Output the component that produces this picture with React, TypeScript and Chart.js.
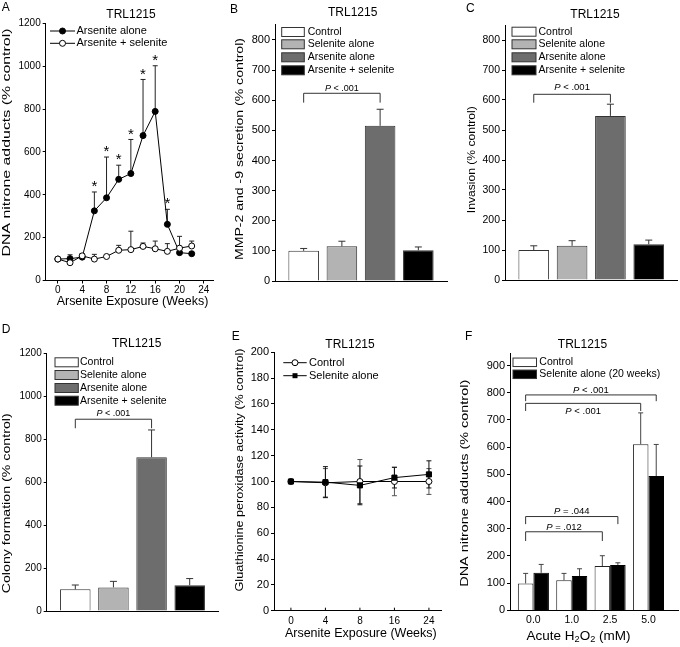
import React, { useEffect, useRef } from 'react';
import { Chart, registerables } from 'chart.js';

Chart.register(...registerables);

const FONT = '"Liberation Sans", Arial, Helvetica, sans-serif';
Chart.defaults.font.family = FONT;

// ---------------- Panel A ----------------
const weeksA = [0, 2, 4, 6, 8, 10, 12, 14, 16, 18, 20, 22];
const arsAloneA = [100, 102, 109, 325, 386, 472, 499, 676, 789, 262, 130, 125];
const arsAloneErrA = [0, 18, 16, 88, 190, 66, 159, 262, 213, 70, 0, 0];
const arsSelA = [100, 83, 115, 100, 112, 141, 144, 159, 148, 136, 151, 161];
const arsSelErrA = [0, 0, 8, 22, 0, 23, 86, 16, 36, 36, 55, 23];
const starWeeksA = [6, 8, 10, 12, 14, 16, 18];
const xTicksA = [0, 4, 8, 12, 16, 20, 24];
const yTicksA = [0, 200, 400, 600, 800, 1000, 1200];

// ---------------- Panels B, C, D ----------------
const groups4 = ['Control', 'Selenite alone', 'Arsenite alone', 'Arsenite + selenite'];
const groupColors = ['#ffffff', '#b3b3b3', '#6d6d6d', '#000000'];
const groupIdx = [0, 1, 2, 3];
const mmpB = [100, 115, 515, 102];
const mmpErrB = [8, 17, 55, 11];
const invasionC = [100, 114, 547, 119];
const invasionErrC = [14, 17, 39, 14];
const colonyD = [101, 110, 716, 120];
const colonyErrD = [20, 28, 127, 31];
const yTicksBC = [0, 100, 200, 300, 400, 500, 600, 700, 800];
const yTicksD = [0, 200, 400, 600, 800, 1000, 1200];
// significance brackets: [lineValue, legBottomValue, labelValue]
const bracketB = [623, 592, 640];
const bracketC = [619, 591, 642];
const bracketD = [893, 851, 921];
const pLabel = 'P < .001';

// ---------------- Panel E ----------------
const weeksE = ['0', '4', '8', '16', '24'];
const controlE = [100, 99, 100, 100, 100];
const controlErrE = [0, 11, 17, 11, 10];
const seleniteE = [100, 99.5, 97, 103, 105.5];
const seleniteErrE = [0, 12, 15, 8, 10.5];
const yTicksE = [0, 20, 40, 60, 80, 100, 120, 140, 160, 180, 200];

// ---------------- Panel F ----------------
const h2o2F = ['0.0', '1.0', '2.5', '5.0'];
const controlF = [99, 111, 163, 611];
const controlErrF = [37, 25, 38, 115];
const seleniteF = [138, 126, 167, 494];
const seleniteErrF = [31, 27, 8, 116];
const yTicksF = [0, 100, 200, 300, 400, 500, 600, 700, 800, 900];
// [fromDataset, fromIndex, toDataset, toIndex, lineValue, legValue, labelValue, label]
const bracketsF: [number, number, number, number, number, number, number, string][] = [
  [0, 0, 1, 3, 792, 769, 810, 'P < .001'],
  [0, 0, 0, 3, 761, 733, 731, 'P < .001'],
  [0, 0, 1, 2, 345, 317, 364, 'P = .044'],
  [0, 0, 0, 2, 289, 255, 306, 'P = .012'],
];

// ---------------- drawing helpers ----------------
type Seg = { t: string; it?: boolean; sub?: boolean };
type TextOpts = { align?: 'left' | 'center' | 'right'; rot?: boolean; len?: number; color?: string };
type Ctx = CanvasRenderingContext2D;

function drawText(ctx: Ctx, content: string | Seg[], x: number, y: number, size: number, o: TextOpts = {}) {
  const arr: Seg[] = typeof content === 'string' ? [{ t: content }] : content;
  ctx.save();
  const fontOf = (s: Seg) => `${s.it ? 'italic ' : ''}${s.sub ? size * 0.68 : size}px ${FONT}`;
  let total = 0;
  const ws = arr.map((s) => {
    ctx.font = fontOf(s);
    const w = ctx.measureText(s.t).width;
    total += w;
    return w;
  });
  const sx = o.len ? o.len / total : 1;
  ctx.translate(x, y);
  if (o.rot) ctx.rotate(-Math.PI / 2);
  ctx.scale(sx, 1);
  let cx = o.align === 'left' ? 0 : o.align === 'right' ? -total : -total / 2;
  ctx.textBaseline = 'middle';
  ctx.textAlign = 'left';
  ctx.fillStyle = o.color || '#000';
  arr.forEach((s, i) => {
    ctx.font = fontOf(s);
    ctx.fillText(s.t, cx, s.sub ? size * 0.27 : 0);
    cx += ws[i];
  });
  ctx.restore();
}

function pSegs(label: string): Seg[] {
  return [{ t: 'P', it: true }, { t: label.slice(1) }];
}

function seg(ctx: Ctx, x1: number, y1: number, x2: number, y2: number, color = '#000', w = 1) {
  ctx.save();
  ctx.strokeStyle = color;
  ctx.lineWidth = w;
  ctx.beginPath();
  ctx.moveTo(x1, y1);
  ctx.lineTo(x2, y2);
  ctx.stroke();
  ctx.restore();
}

function errBar(ctx: Ctx, x: number, yFrom: number, yTo: number, cap: number, color: string) {
  seg(ctx, x, yFrom, x, yTo, color);
  seg(ctx, x - cap / 2, yTo, x + cap / 2, yTo, color);
}

function bracket(ctx: Ctx, x1: number, x2: number, yLine: number, yLeg: number, label: string, yLabel: number, size: number) {
  ctx.save();
  ctx.strokeStyle = '#333';
  ctx.lineWidth = 1;
  ctx.beginPath();
  ctx.moveTo(x1, yLeg);
  ctx.lineTo(x1, yLine);
  ctx.lineTo(x2, yLine);
  ctx.lineTo(x2, yLeg);
  ctx.stroke();
  ctx.restore();
  drawText(ctx, pSegs(label), (x1 + x2) / 2, yLabel, size);
}

function legendBox(ctx: Ctx, x1: number, x2: number, yc: number, h: number, fill: string, text: string, tx: number, size: number) {
  ctx.save();
  ctx.fillStyle = fill;
  ctx.fillRect(x1, yc - h / 2, x2 - x1, h);
  ctx.strokeStyle = '#333';
  ctx.lineWidth = 1;
  ctx.strokeRect(x1, yc - h / 2, x2 - x1, h);
  ctx.restore();
  drawText(ctx, text, tx, yc, size, { align: 'left' });
}

function marker(ctx: Ctx, x: number, y: number, kind: 'dot' | 'ring' | 'square') {
  ctx.save();
  ctx.strokeStyle = '#000';
  ctx.lineWidth = 1;
  if (kind === 'square') {
    ctx.fillStyle = '#000';
    ctx.fillRect(x - 2.5, y - 2.5, 5, 5);
  } else {
    ctx.beginPath();
    ctx.arc(x, y, 3, 0, Math.PI * 2);
    ctx.fillStyle = kind === 'dot' ? '#000' : '#fff';
    ctx.fill();
    ctx.stroke();
  }
  ctx.restore();
}

function legendLine(ctx: Ctx, x1: number, x2: number, yc: number, kind: 'dot' | 'ring' | 'square', text: string, tx: number, size: number) {
  seg(ctx, x1, yc, x2, yc, '#000');
  marker(ctx, (x1 + x2) / 2, yc, kind);
  drawText(ctx, text, tx, yc, size, { align: 'left' });
}

// ---------------- scale builders ----------------
function yAxis(max: number, ticks: number[], size: number) {
  return {
    type: 'linear',
    min: 0,
    max,
    bounds: 'data',
    afterBuildTicks: (sc: any) => {
      sc.ticks = ticks.map((v) => ({ value: v }));
    },
    ticks: { font: { size, family: FONT }, color: '#000', padding: 2, autoSkip: false, callback: (v: any) => String(v) },
    grid: { display: true, drawOnChartArea: false, drawTicks: true, tickLength: 3, color: '#000', lineWidth: 1 },
    border: { display: true, color: '#000', width: 1 },
    title: { display: false },
  };
}

function xAxis(min: number, max: number, ticks: number[], o: { labels?: string[]; size?: number; show: boolean; marks: boolean; pad?: number }) {
  return {
    type: 'linear',
    min,
    max,
    bounds: 'data',
    offset: false,
    afterBuildTicks: (sc: any) => {
      sc.ticks = ticks.map((v) => ({ value: v }));
    },
    ticks: {
      display: o.show,
      font: { size: o.size ?? 10, family: FONT },
      color: '#000',
      padding: o.pad ?? 1,
      autoSkip: false,
      maxRotation: 0,
      minRotation: 0,
      callback: (v: any) => (o.labels ? o.labels[v] ?? '' : String(v)),
    },
    grid: { display: o.marks, offset: false, drawOnChartArea: false, drawTicks: true, tickLength: 3, color: '#000' },
    border: { display: true, color: '#000', width: 1 },
    title: { display: false },
  };
}

// ---------------- panel spec ----------------
type Loc = { L: (x: number) => number; T: (y: number) => number };
interface PanelSpec {
  box: { left: number; top: number; w: number; h: number };
  area: { l: number; t: number; r: number; b: number };
  type: 'line' | 'bar';
  datasets: any[];
  x: any;
  y: any;
  before?: (chart: any, ctx: Ctx, p: Loc) => void;
  after?: (chart: any, ctx: Ctx, p: Loc) => void;
}

function buildConfig(s: PanelSpec): any {
  const yW = s.area.l - s.box.left;
  const xH = s.box.top + s.box.h - s.area.b;
  const loc: Loc = { L: (x) => x - s.box.left, T: (y) => y - s.box.top };
  return {
    type: s.type,
    data: { datasets: s.datasets },
    options: {
      responsive: false,
      maintainAspectRatio: false,
      animation: false,
      devicePixelRatio: 1,
      events: [],
      layout: {
        padding: { left: 0, top: s.area.t - s.box.top, right: s.box.left + s.box.w - s.area.r, bottom: 0 },
      },
      plugins: { legend: { display: false }, tooltip: { enabled: false }, title: { display: false } },
      scales: {
        x: { ...s.x, afterFit: (sc: any) => { sc.height = xH; } },
        y: { ...s.y, afterFit: (sc: any) => { sc.width = yW; } },
      },
    },
    plugins: [
      {
        id: 'extras',
        beforeDatasetsDraw: (c: any) => { if (s.before) s.before(c, c.ctx, loc); },
        afterDraw: (c: any) => { if (s.after) s.after(c, c.ctx, loc); },
      },
    ],
  };
}

// ---------------- Panel A spec ----------------
const specA: PanelSpec = {
  box: { left: 0, top: 0, w: 226, h: 320 },
  area: { l: 45.7, t: 23.3, r: 213, b: 280.5 },
  type: 'line',
  datasets: [
    {
      label: 'Arsenite alone',
      data: weeksA.map((w, i) => ({ x: w, y: arsAloneA[i] })),
      borderColor: '#000', borderWidth: 1, pointRadius: 3, pointBackgroundColor: '#000', pointBorderColor: '#000', pointBorderWidth: 1, order: 2,
    },
    {
      label: 'Arsenite + selenite',
      data: weeksA.map((w, i) => ({ x: w, y: arsSelA[i] })),
      borderColor: '#000', borderWidth: 1, pointRadius: 3, pointBackgroundColor: '#fff', pointBorderColor: '#000', pointBorderWidth: 1, order: 1,
    },
  ],
  x: xAxis(-2, 25.5, xTicksA, { show: true, marks: true, size: 10, pad: 1 }),
  y: yAxis(1200, yTicksA, 10),
  before: (c, ctx) => {
    const xs = c.scales.x, ys = c.scales.y;
    const sets: [number[], number[]][] = [[arsAloneA, arsAloneErrA], [arsSelA, arsSelErrA]];
    sets.forEach(([vals, errs]) => {
      weeksA.forEach((w, i) => {
        if (errs[i] > 0) errBar(ctx, xs.getPixelForValue(w), ys.getPixelForValue(vals[i]), ys.getPixelForValue(vals[i] + errs[i]), 5, '#222');
      });
    });
  },
  after: (c, ctx, { L, T }) => {
    const xs = c.scales.x, ys = c.scales.y;
    starWeeksA.forEach((w) => {
      const i = weeksA.indexOf(w);
      const top = ys.getPixelForValue(arsAloneA[i] + arsAloneErrA[i]);
      drawText(ctx, '*', xs.getPixelForValue(w), top - 5, 15);
    });
    legendLine(ctx, L(50), L(75), T(31), 'dot', 'Arsenite alone', L(76.5), 11);
    legendLine(ctx, L(50), L(75), T(43.3), 'ring', 'Arsenite + selenite', L(76.5), 11);
    drawText(ctx, 'A', L(1.7), T(7.5), 12, { align: 'left' });
    drawText(ctx, 'TRL1215', L(131), T(15), 12);
    drawText(ctx, 'DNA nitrone adducts (% control)', L(6.7), T(142.5), 11, { rot: true, len: 228 });
    drawText(ctx, 'Arsenite Exposure (Weeks)', L(132.5), T(301.5), 12.5, { len: 151.7 });
  },
};

// ---------------- Bar panels B, C, D ----------------
function barPanel(p: {
  box: PanelSpec['box']; area: PanelSpec['area']; yMax: number; yTicks: number[]; ySize: number;
  vals: number[]; errs: number[]; br: number[]; brSize: number;
  legX: [number, number, number]; legRows: number[]; legH: number;
  title: [number, number]; letter: [string, number, number]; ytitle: [string, number, number, number];
}): PanelSpec {
  return {
    box: p.box,
    area: p.area,
    type: 'bar',
    datasets: [
      {
        data: groupIdx.map((g) => ({ x: g, y: p.vals[g] })),
        backgroundColor: groupColors,
        borderColor: '#333',
        borderWidth: 1,
        barPercentage: 0.8,
        categoryPercentage: 1,
      },
    ],
    x: xAxis(-0.75, 3.75, groupIdx, { show: false, marks: false }),
    y: yAxis(p.yMax, p.yTicks, p.ySize),
    before: () => {},
    after: (c, ctx, { L, T }) => {
      const ys = c.scales.y;
      const meta = c.getDatasetMeta(0);
      groupIdx.forEach((g) => {
        const x = meta.data[g].x;
        errBar(ctx, x, ys.getPixelForValue(p.vals[g]), ys.getPixelForValue(p.vals[g] + p.errs[g]), 7, '#333');
      });
      bracket(ctx, meta.data[0].x, meta.data[2].x, ys.getPixelForValue(p.br[0]), ys.getPixelForValue(p.br[1]), pLabel, ys.getPixelForValue(p.br[2]), p.brSize);
      groups4.forEach((g, i) => legendBox(ctx, L(p.legX[0]), L(p.legX[1]), T(p.legRows[i]), p.legH, groupColors[i], g, L(p.legX[2]), 10.5));
      drawText(ctx, p.letter[0], L(p.letter[1]), T(p.letter[2]), 12, { align: 'left' });
      drawText(ctx, 'TRL1215', L(p.title[0]), T(p.title[1]), 12);
      drawText(ctx, p.ytitle[0], L(p.ytitle[1]), T(p.ytitle[2]), 11, { rot: true, len: p.ytitle[3] });
    },
  };
}

const specB = barPanel({
  box: { left: 226, top: 0, w: 226, h: 320 },
  area: { l: 275, t: 24.9, r: 447, b: 281 },
  yMax: 850, yTicks: yTicksBC, ySize: 11,
  vals: mmpB, errs: mmpErrB, br: bracketB, brSize: 9,
  legX: [281.7, 304.3, 307.7], legRows: [32, 44.3, 57.3, 70.3], legH: 9,
  title: [352.7, 12.5], letter: ['B', 230, 9.2], ytitle: ['MMP-2 and -9 secretion (% control)', 240.3, 149, 222],
});

const specC = barPanel({
  box: { left: 452, top: 0, w: 228, h: 320 },
  area: { l: 505, t: 25, r: 677.5, b: 280 },
  yMax: 850, yTicks: yTicksBC, ySize: 10.5,
  vals: invasionC, errs: invasionErrC, br: bracketC, brSize: 9.5,
  legX: [512, 536, 538.5], legRows: [31.7, 44.3, 57.3, 70.3], legH: 9,
  title: [595, 15], letter: ['C', 466, 9], ytitle: ['Invasion (% control)', 471.7, 159.7, 107],
});

const specD = barPanel({
  box: { left: 0, top: 320, w: 226, h: 327 },
  area: { l: 46.7, t: 353.3, r: 218.3, b: 611 },
  yMax: 1200, yTicks: yTicksD, ySize: 10,
  vals: colonyD, errs: colonyErrD, br: bracketD, brSize: 9,
  legX: [55, 78.3, 80], legRows: [362.3, 375, 388, 400.7], legH: 9,
  title: [136.7, 343.3], letter: ['D', 1.7, 329.2], ytitle: ['Colony formation (% control)', 6.7, 503.3, 180],
});

// ---------------- Panel E ----------------
const idxE = weeksE.map((_, i) => i);
const specE: PanelSpec = {
  box: { left: 226, top: 320, w: 226, h: 327 },
  area: { l: 274, t: 352.3, r: 441.7, b: 610.7 },
  type: 'line',
  datasets: [
    {
      label: 'Control',
      data: idxE.map((i) => ({ x: i, y: controlE[i] })),
      borderColor: '#000', borderWidth: 1, pointStyle: 'circle', pointRadius: 3, pointBackgroundColor: '#fff', pointBorderColor: '#000', pointBorderWidth: 1, order: 2,
    },
    {
      label: 'Selenite alone',
      data: idxE.map((i) => ({ x: i, y: seleniteE[i] })),
      borderColor: '#000', borderWidth: 1, pointStyle: 'rect', pointRadius: 3.6, pointBackgroundColor: '#000', pointBorderColor: '#000', pointBorderWidth: 1, order: 1,
    },
  ],
  x: xAxis(-0.49, 4.37, idxE, { show: true, marks: false, labels: weeksE, size: 10, pad: 2 }),
  y: yAxis(200, yTicksE, 11),
  before: (c, ctx) => {
    const xs = c.scales.x, ys = c.scales.y;
    const sets: [number[], number[], string][] = [[controlE, controlErrE, '#555'], [seleniteE, seleniteErrE, '#111']];
    sets.forEach(([vals, errs, col]) => {
      idxE.forEach((i) => {
        if (errs[i] > 0) {
          const x = xs.getPixelForValue(i);
          const y0 = ys.getPixelForValue(vals[i]);
          errBar(ctx, x, y0, ys.getPixelForValue(vals[i] + errs[i]), 5, col);
          errBar(ctx, x, y0, ys.getPixelForValue(vals[i] - errs[i]), 5, col);
        }
      });
    });
  },
  after: (c, ctx, { L, T }) => {
    const xs = c.scales.x;
    idxE.forEach((i) => {
      const x = xs.getPixelForValue(i);
      seg(ctx, x, c.chartArea.bottom, x, c.chartArea.bottom - 3, '#000');
    });
    legendLine(ctx, L(283.3), L(306.7), T(362.7), 'ring', 'Control', L(309), 11);
    legendLine(ctx, L(283.3), L(306.7), T(375.7), 'square', 'Selenite alone', L(309), 11);
    drawText(ctx, 'E', L(231.7), T(337), 12, { align: 'left' });
    drawText(ctx, 'TRL1215', L(350), T(344.3), 12);
    drawText(ctx, 'Gluathionine peroxidase activity (% control)', L(239.7), T(470), 11, { rot: true, len: 243 });
    drawText(ctx, 'Arsenite Exposure (Weeks)', L(360.8), T(634), 12.5, { len: 151.7 });
  },
};

// ---------------- Panel F ----------------
const idxF = h2o2F.map((_, i) => i);
const specF: PanelSpec = {
  box: { left: 452, top: 320, w: 228, h: 327 },
  area: { l: 510, t: 353.3, r: 678, b: 610.4 },
  type: 'bar',
  datasets: [
    {
      label: 'Control',
      data: idxF.map((i) => ({ x: i, y: controlF[i] })),
      backgroundColor: '#ffffff', borderColor: '#222', borderWidth: 1, barPercentage: 1, categoryPercentage: 0.81,
    },
    {
      label: 'Selenite alone (20 weeks)',
      data: idxF.map((i) => ({ x: i, y: seleniteF[i] })),
      backgroundColor: '#000000', borderColor: '#000', borderWidth: 1, barPercentage: 1, categoryPercentage: 0.81,
    },
  ],
  x: xAxis(-0.61, 3.77, idxF, { show: true, marks: false, labels: h2o2F, size: 10.5, pad: 0.5 }),
  y: yAxis(945, yTicksF, 11),
  before: (c, ctx) => {
    const ys = c.scales.y;
    const sets: [number[], number[]][] = [[controlF, controlErrF], [seleniteF, seleniteErrF]];
    sets.forEach(([vals, errs], d) => {
      const meta = c.getDatasetMeta(d);
      idxF.forEach((i) => {
        errBar(ctx, meta.data[i].x, ys.getPixelForValue(vals[i]), ys.getPixelForValue(vals[i] + errs[i]), 5, '#444');
      });
    });
  },
  after: (c, ctx, { L, T }) => {
    const ys = c.scales.y;
    bracketsF.forEach(([d1, i1, d2, i2, lv, gv, tv, label]) => {
      const x1 = c.getDatasetMeta(d1).data[i1].x;
      const x2 = c.getDatasetMeta(d2).data[i2].x;
      bracket(ctx, x1, x2, ys.getPixelForValue(lv), ys.getPixelForValue(gv), label, ys.getPixelForValue(tv), 9.5);
    });
    legendBox(ctx, L(513), L(536.5), T(362.3), 8.5, '#ffffff', 'Control', L(539.3), 10.5);
    legendBox(ctx, L(513), L(536.5), T(374.3), 8.5, '#000000', 'Selenite alone (20 weeks)', L(539.3), 10.5);
    drawText(ctx, 'F', L(465), T(337), 12, { align: 'left' });
    drawText(ctx, 'TRL1215', L(582.5), T(344.3), 12);
    drawText(ctx, 'DNA nitrone adducts (% control)', L(465.3), T(483.3), 11, { rot: true, len: 207 });
    drawText(
      ctx,
      [{ t: 'Acute H' }, { t: '2', sub: true }, { t: 'O' }, { t: '2', sub: true }, { t: ' (mM)' }],
      L(578.5), T(636.5), 13, { len: 104 }
    );
  },
};

const specs: PanelSpec[] = [specA, specB, specC, specD, specE, specF];

function Panel({ spec }: { spec: PanelSpec }) {
  const ref = useRef<HTMLCanvasElement>(null);
  useEffect(() => {
    if (!ref.current) return;
    const chart = new Chart(ref.current, buildConfig(spec));
    return () => chart.destroy();
  }, [spec]);
  return (
    <canvas
      ref={ref}
      width={spec.box.w}
      height={spec.box.h}
      style={{ position: 'absolute', left: spec.box.left, top: spec.box.top, width: spec.box.w, height: spec.box.h, display: 'block' }}
    />
  );
}

export default function App() {
  return (
    <div style={{ position: 'absolute', left: 0, top: 0, width: 680, height: 647, background: '#fff', overflow: 'hidden' }}>
      {specs.map((s, i) => (
        <Panel key={i} spec={s} />
      ))}
    </div>
  );
}
